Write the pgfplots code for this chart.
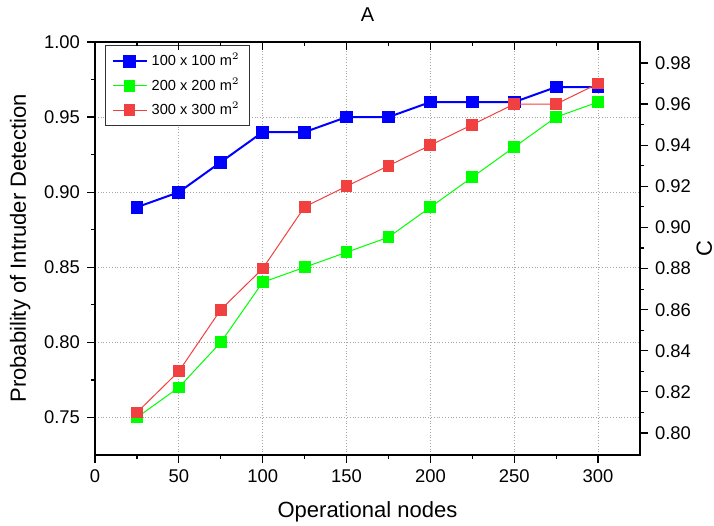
\documentclass[border=0pt]{standalone}
\usepackage{fontspec}
\setmainfont{Liberation Sans}
\usepackage{pgfplots}
\pgfplotsset{compat=1.18}
\usetikzlibrary{calc}

\definecolor{cblue}{RGB}{0,0,255}
\definecolor{cgreen}{RGB}{0,255,0}
\definecolor{cred}{RGB}{240,64,64}

\pgfplotsset{
  common/.style={
    scale only axis, width=272.5pt, height=206.5pt,
    xmin=0, xmax=325,
    /pgf/number format/assume math mode=true,
    tick label style={font=\fontsize{9.2}{10}\selectfont},
    label style={font=\fontsize{11}{13}\selectfont},
    axis line style={line width=0.75pt},
    major tick length=4pt, minor tick length=2pt,
    every tick/.style={black, line width=0.6pt},
  },
  sq/.style={mark=square*, mark size=2.7pt, mark options={solid}},
}

\begin{document}
\begin{tikzpicture}
% left axis: 100x100 and 200x200
\begin{axis}[common,
    ymin=0.725, ymax=1.0,
    ytick={0.75,0.80,0.85,0.90,0.95,1.00},
    yticklabel style={/pgf/number format/.cd, fixed, fixed zerofill, precision=2},
    xtick={0,50,100,150,200,250,300}, minor x tick num=1, minor y tick num=1,
    xtick pos=bottom, ytick pos=left, tick align=outside,
    grid=major, grid style={densely dotted, gray!70, line width=0.4pt},
    xlabel={Operational nodes}, xlabel style={yshift=-2.5pt},
    ylabel={Probability of Intruder Detection},
    title={A}, title style={font=\fontsize{10}{12}\selectfont, yshift=0.5pt},
    legend cell align=left,
    legend style={at={(0,1)}, anchor=north west, xshift=5pt, yshift=-1.5pt,
      draw=black!80, line width=0.5pt,
      font=\fontsize{7.3}{8.5}\selectfont, row sep=0.5pt},
]
\coordinate (SW) at (rel axis cs:0,0);
\coordinate (NE) at (rel axis cs:1,1);
\addplot[cblue, line width=1pt, sq] coordinates {
  (25,0.89) (50,0.90) (75,0.92) (100,0.94) (125,0.94) (150,0.95)
  (175,0.95) (200,0.96) (225,0.96) (250,0.96) (275,0.97) (300,0.97)
};
\addlegendentry{100 x 100 m$^2$}
\addplot[cgreen, line width=0.5pt, sq] coordinates {
  (25,0.75) (50,0.77) (75,0.80) (100,0.84) (125,0.85) (150,0.86)
  (175,0.87) (200,0.89) (225,0.91) (250,0.93) (275,0.95) (300,0.96)
};
\addlegendentry{200 x 200 m$^2$}
\addlegendimage{cred, line width=0.5pt, sq}
\addlegendentry{300 x 300 m$^2$}
\end{axis}

% right axis: 300x300
\begin{axis}[common,
    ymin=0.7893, ymax=0.9902,
    axis y line*=right, axis x line=none,
    ytick={0.80,0.82,0.84,0.86,0.88,0.90,0.92,0.94,0.96,0.98},
    yticklabel style={/pgf/number format/.cd, fixed, fixed zerofill, precision=2},
    minor y tick num=1, tick align=outside,
    ylabel={C}, ylabel style={yshift=4pt},
]
\addplot[cred, line width=0.5pt, sq] coordinates {
  (25,0.81) (50,0.83) (75,0.86) (100,0.88) (125,0.91) (150,0.92)
  (175,0.93) (200,0.94) (225,0.95) (250,0.96) (275,0.96) (300,0.97)
};
\end{axis}

% top ticks pointing inwards
\begin{axis}[common,
    ymin=0, ymax=1,
    axis x line*=top, axis y line=none,
    xtick={0,50,100,150,200,250,300}, minor x tick num=1,
    tick align=inside, xticklabels={},
]
\end{axis}

\pgfresetboundingbox
\path[use as bounding box] ($(SW)+(-47.5pt,-35pt)$) rectangle ($(NE)+(37pt,21pt)$);
\end{tikzpicture}
\end{document}
